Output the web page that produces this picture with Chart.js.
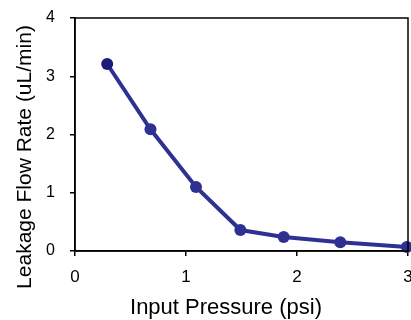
<!DOCTYPE html>
<html>
<head>
<meta charset="utf-8">
<script src="https://cdn.jsdelivr.net/npm/chart.js@4"></script>
<style>
  html, body { margin: 0; padding: 0; background: #fff; overflow: hidden; }
</style>
</head>
<body>
<canvas id="chart" width="411" height="320"></canvas>
<script>
const pressure = [0.29, 0.68, 1.09, 1.49, 1.88, 2.39, 2.99];
const leakage = [3.21, 2.09, 1.10, 0.36, 0.24, 0.15, 0.07];
const xTicks = [0, 1, 2, 3];
const yTicks = [0, 1, 2, 3, 4];
const xTitle = 'Input Pressure (psi)';
const yTitle = 'Leakage Flow Rate (uL/min)';

const lineColor = '#2e3192';
const font = "Arial, 'Liberation Sans', sans-serif";

// box around the plot area, plus both axis titles (the original has them off-centre)
const frame = {
    id: 'frame',
    afterDraw(chart) {
        const { ctx, chartArea } = chart;
        ctx.save();
        ctx.strokeStyle = '#000';
        ctx.lineWidth = 1.5;
        ctx.strokeRect(chartArea.left, chartArea.top, chartArea.right - chartArea.left, chartArea.bottom - chartArea.top);
        ctx.fillStyle = '#000';
        ctx.textAlign = 'center';
        ctx.font = '22px ' + font;
        ctx.textBaseline = 'alphabetic';
        ctx.fillText(xTitle, 226, 314);
        ctx.translate(25, 157);
        ctx.rotate(-Math.PI / 2);
        ctx.font = '21px ' + font;
        ctx.textBaseline = 'middle';
        ctx.fillText(yTitle, 0, 0);
        ctx.restore();
    }
};

const ctx = document.getElementById('chart').getContext('2d');
new Chart(ctx, {
    type: 'scatter',
    data: {
        datasets: [{
            data: pressure.map((x, i) => ({ x: x, y: leakage[i] })),
            showLine: true,
            borderColor: lineColor,
            borderWidth: 4,
            pointRadius: 6,
            pointBackgroundColor: pressure.map((x, i) => i === 0 ? '#1b1b78' : lineColor),
            pointBorderWidth: 0,
            clip: false
        }]
    },
    options: {
        responsive: false,
        animation: false,
        layout: { autoPadding: false, padding: { top: 18, right: 3, bottom: 0, left: 0 } },
        plugins: {
            legend: { display: false },
            tooltip: { enabled: false }
        },
        scales: {
            x: {
                type: 'linear',
                min: 0,
                max: 3,
                afterBuildTicks: axis => { axis.ticks = xTicks.map(v => ({ value: v })); },
                afterFit: axis => {
                    axis.height = 69;
                    axis.paddingLeft = 0;
                    axis.paddingRight = 0;
                },
                grid: { drawOnChartArea: false, tickLength: 5, color: '#000', lineWidth: 1.5 },
                border: { color: '#000', width: 1.5 },
                ticks: { color: '#000', padding: 11, maxRotation: 0, font: { family: font, size: 17 } },
                title: { display: false }
            },
            y: {
                type: 'linear',
                min: 0,
                max: 4,
                afterBuildTicks: axis => { axis.ticks = yTicks.map(v => ({ value: v })); },
                afterFit: axis => {
                    axis.width = 75;
                    axis.paddingTop = 0;
                    axis.paddingBottom = 0;
                },
                grid: { drawOnChartArea: false, tickLength: 5, color: '#000', lineWidth: 1.5 },
                border: { color: '#000', width: 1.5 },
                ticks: { color: '#000', padding: 15, font: { family: font, size: 16 } },
                title: { display: false }
            }
        }
    },
    plugins: [frame]
});
</script>
</body>
</html>
